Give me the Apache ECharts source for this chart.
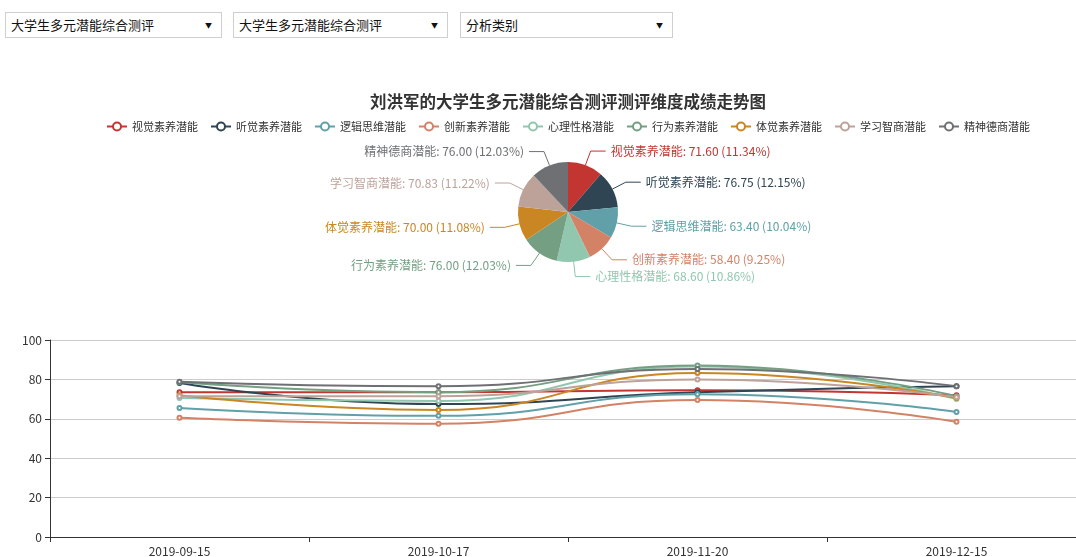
<!DOCTYPE html>
<html>
<head>
<meta charset="utf-8">
<script src="https://cdn.jsdelivr.net/npm/echarts@6/dist/echarts.min.js"></script>
<style>
html,body{margin:0;padding:0;width:1076px;height:557px;overflow:hidden;background:#fff;font-family:"Noto Sans CJK SC",sans-serif;}
.sel{position:absolute;top:12px;height:26px;border:1px solid #cfcfcf;box-sizing:border-box;font-size:13px;color:#111;line-height:24px;padding-left:5px;background:#fff;}
.sel span{position:absolute;right:9px;top:0;font-size:7px;}
#chart{position:absolute;left:0;top:50px;width:1136px;height:507px;}
</style>
</head>
<body>
<div class="sel" style="left:5px;width:217px;">大学生多元潜能综合测评<span>▼</span></div>
<div class="sel" style="left:233px;width:215px;">大学生多元潜能综合测评<span>▼</span></div>
<div class="sel" style="left:460px;width:213px;">分析类别<span>▼</span></div>
<div id="chart"></div>
<script>
const titleText = '刘洪军的大学生多元潜能综合测评测评维度成绩走势图';
const dims = ['视觉素养潜能','听觉素养潜能','逻辑思维潜能','创新素养潜能','心理性格潜能','行为素养潜能','体觉素养潜能','学习智商潜能','精神德商潜能'];
const dates = ['2019-09-15','2019-10-17','2019-11-20','2019-12-15'];
const pieValues = [71.60, 76.75, 63.40, 58.40, 68.60, 76.00, 70.00, 70.83, 76.00];
const s_shijue  = [73.5, 73.5, 74.5, 72.0];
const s_tingjue = [78.2, 67.5, 73.5, 76.5];
const s_luoji   = [65.5, 61.5, 72.5, 63.5];
const s_chuangxin = [60.5, 57.5, 69.5, 58.5];
const s_xinli   = [70.5, 69.0, 86.5, 70.0];
const s_xingwei = [78.5, 73.5, 87.0, 71.5];
const s_tijue   = [72.0, 64.5, 83.3, 70.5];
const s_xuexi   = [71.5, 71.5, 80.0, 71.0];
const s_jingshen = [78.8, 76.5, 85.3, 76.5];
const lineData = [s_shijue, s_tingjue, s_luoji, s_chuangxin, s_xinli, s_xingwei, s_tijue, s_xuexi, s_jingshen];
const colors = ['#c23531','#2f4554','#61a0a8','#d48265','#91c7ae','#749f83','#ca8622','#bda29a','#6e7074'];
const FONT = '"Noto Sans CJK SC", sans-serif';

const chart = echarts.init(document.getElementById('chart'));
const series = [{
  type: 'pie',
  center: ['50%', 162],
  radius: [0, 50],
  label: {
    fontSize: 12, fontFamily: FONT,
    formatter: p => p.name + ': ' + p.value.toFixed(2) + ' (' + p.percent.toFixed(2) + '%)'
  },
  labelLine: { length: 15, length2: 15 },
  data: dims.map((d, i) => ({ name: d, value: pieValues[i], itemStyle: { color: colors[i] }, label: { color: colors[i] } }))
}];
dims.forEach((d, i) => {
  series.push({
    type: 'line', name: d, smooth: true,
    symbol: 'emptyCircle', symbolSize: 4,
    itemStyle: { color: colors[i] },
    lineStyle: { width: 2, color: colors[i] },
    data: lineData[i]
  });
});
chart.setOption({
  color: colors,
  animation: false,
  textStyle: { fontFamily: FONT },
  title: { text: titleText, left: 'center', top: 38, textStyle: { fontSize: 16.5, fontWeight: 'bold', color: '#333', fontFamily: FONT } },
  legend: {
    top: 66, left: 'center', itemWidth: 20, itemHeight: 10, itemGap: 12,
    textStyle: { fontSize: 11, color: '#333', fontFamily: FONT },
    data: dims
  },
  grid: { left: 50, right: 50, top: 290, bottom: 18 },
  xAxis: {
    type: 'category', data: dates, boundaryGap: true,
    axisLine: { lineStyle: { color: '#333' } },
    axisTick: { show: true, lineStyle: { color: '#333' } },
    axisLabel: { color: '#333', fontSize: 12 }
  },
  yAxis: {
    type: 'value', min: 0, max: 100, interval: 20,
    axisLine: { show: true, lineStyle: { color: '#333' } },
    axisTick: { show: true, lineStyle: { color: '#333' } },
    axisLabel: { color: '#333', fontSize: 12 },
    splitLine: { lineStyle: { color: '#ccc' } }
  },
  series: series
});
</script>
</body>
</html>
